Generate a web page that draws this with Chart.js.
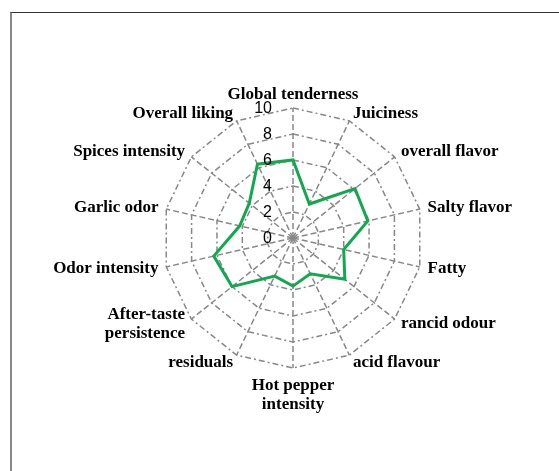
<!DOCTYPE html>
<html>
<head>
<meta charset="utf-8">
<script src="https://cdn.jsdelivr.net/npm/chart.js@4.4.1/dist/chart.umd.min.js"></script>
<style>
    body { margin: 0; background: #fff; }
    #wrap { position: relative; width: 559px; height: 471px; overflow: hidden; }
    #frame { position: absolute; left: 10px; top: 12px; width: 620px; height: 520px;
             border-top: 1px solid #333; border-left: 2px solid #888; }
    #radar-chart { position: absolute; left: 0; top: 0; }
</style>
</head>
<body>
<div id="wrap">
    <div id="frame"></div>
    <canvas id="radar-chart" width="559" height="471"></canvas>
</div>
<script>
var attributes = [
    "Global tenderness", "Juiciness", "overall flavor", "Salty flavor", "Fatty",
    "rancid odour", "acid flavour", ["Hot pepper", "intensity"], "residuals",
    ["After-taste", "persistence"], "Odor intensity", "Garlic odor",
    "Spices intensity", "Overall liking"
];

var scores = [6.0, 2.9, 6.1, 5.9, 4.0, 5.1, 3.05, 3.7, 3.25, 6.0, 6.25, 4.2, 4.3, 6.3];

var tickValues = [0, 2, 4, 6, 8, 10];

var labelFont = "bold 17px 'Liberation Serif', 'Times New Roman', serif";
var tickFont = "16px 'Liberation Sans', Arial, sans-serif";

// tick numbers sit left of the top spoke, point labels around the outer ring
var labelPlugin = {
    id: "radarText",
    afterDraw: function(chart) {
        var scale = chart.scales.r;
        var ctx = chart.ctx;
        ctx.save();
        ctx.fillStyle = "#000";

        ctx.font = tickFont;
        ctx.textAlign = "right";
        ctx.textBaseline = "middle";
        for (var i = 0; i < tickValues.length; i++) {
            var d = scale.getDistanceFromCenterForValue(tickValues[i]);
            ctx.fillText(String(tickValues[i]), scale.xCenter - 21, scale.yCenter - d + 1);
        }

        ctx.font = labelFont;
        var lineH = 19;
        for (var j = 0; j < attributes.length; j++) {
            var lines = [].concat(attributes[j]);
            var p = scale.getPointPosition(j, scale.drawingArea + 8);
            var dx = p.x - scale.xCenter;
            var dy = p.y - scale.yCenter;
            var y0;
            if (Math.abs(dx) < 2) {
                ctx.textAlign = "center";
                if (dy < 0) {
                    ctx.textBaseline = "alphabetic";
                    y0 = p.y - 1 - (lines.length - 1) * lineH;
                } else {
                    ctx.textBaseline = "middle";
                    y0 = p.y + 10;
                }
            } else {
                ctx.textAlign = dx > 0 ? "left" : "right";
                ctx.textBaseline = "middle";
                y0 = p.y - (lines.length - 1) * lineH / 2;
            }
            for (var k = 0; k < lines.length; k++) {
                ctx.fillText(lines[k], p.x, y0 + k * lineH);
            }
        }
        ctx.restore();
    }
};

var ctx = document.getElementById("radar-chart");

var chart = new Chart(ctx, {
    type: "radar",
    data: {
        labels: attributes,
        datasets: [
            {
                label: "Score",
                data: scores,
                borderColor: "#12a84e",
                borderWidth: 3,
                fill: false,
                pointRadius: 0,
                tension: 0
            }
        ]
    },
    options: {
        responsive: false,
        animation: false,
        devicePixelRatio: 1,
        layout: { padding: { left: 163, right: 136, top: 108, bottom: 103 } },
        plugins: {
            legend: { display: false },
            tooltip: { enabled: false }
        },
        scales: {
            r: {
                min: 0,
                max: 10,
                ticks: { stepSize: 2, display: false },
                pointLabels: { display: false },
                grid: { color: "#888", lineWidth: 1.5 },
                border: { dash: [6, 3, 2, 3] },
                angleLines: { color: "#888", lineWidth: 1.5, borderDash: [6, 3] }
            }
        }
    },
    plugins: [labelPlugin]
});
</script>
</body>
</html>
